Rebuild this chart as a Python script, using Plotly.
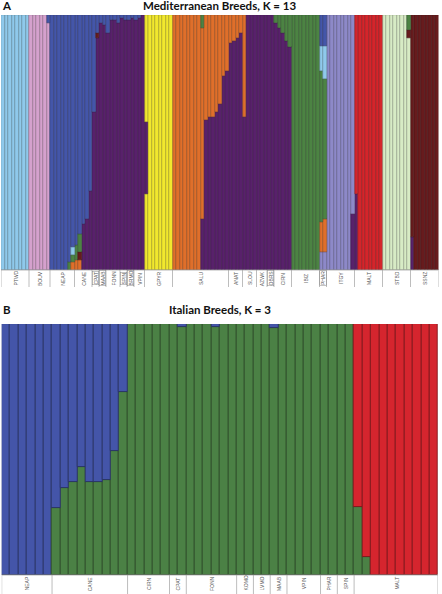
import plotly.graph_objects as go

W, H = 442, 594

# ---------------- Panel A data (Mediterranean breeds, K = 13) ----------------
A_breeds = ["PTWD", "BOUV", "NEAP", "CANE", "CPAT", "MAAB", "FONN", "SPIN", "BRMO", "VPIN",
            "GPYR", "SALU", "ANAT", "SLOU", "AZWK", "OBRS", "CIRN", "IBIZ", "PHAR", "ITGY",
            "MALT", "STBD", "SSNZ"]
A_counts = [8, 6, 7, 5, 2, 2, 4, 2, 2, 3, 8, 16, 4, 4, 3, 2, 5, 8, 2, 8, 8, 8, 8]
A_main = ["ltblue", "pink", "blue", "blue", "purple", "purple", "purple", "purple", "purple",
          "purple", "yellow", "orange", "purple", "purple", "purple", "purple", "purple",
          "green", "green", "lavender", "red", "ltgreen", "darkred"]
A_boxed = ["CPAT", "MAAB", "SPIN", "BRMO", "OBRS", "PHAR"]

# admixed individuals: bar index -> [(cluster, proportion)] bottom to top
A_admix = {
    13: [("pink", 0.97), ("blue", 0.03)],
    19: [("green", 0.03), ("blue", 0.97)],
    20: [("orange", 0.03), ("green", 0.03), ("ltblue", 0.03), ("blue", 0.91)],
    21: [("orange", 0.04), ("green", 0.06), ("blue", 0.90)],
    22: [("orange", 0.04), ("darkred", 0.03), ("green", 0.07), ("blue", 0.86)],
    23: [("purple", 0.18), ("blue", 0.82)],
    24: [("purple", 0.20), ("blue", 0.80)],
    25: [("purple", 0.31), ("blue", 0.69)],
    26: [("purple", 0.62), ("blue", 0.38)],
    27: [("purple", 0.91), ("darkred", 0.02), ("blue", 0.07)],
    28: [("purple", 0.97), ("blue", 0.03)],
    29: [("purple", 0.96), ("blue", 0.04)],
    30: [("purple", 0.93), ("blue", 0.07)],
    31: [("purple", 0.98), ("blue", 0.02)],
    32: [("purple", 0.98), ("blue", 0.02)],
    33: [("purple", 0.97), ("blue", 0.03)],
    34: [("purple", 0.99), ("blue", 0.01)],
    35: [("purple", 0.98), ("blue", 0.02)],
    36: [("purple", 0.98), ("blue", 0.02)],
    37: [("purple", 0.99), ("blue", 0.01)],
    38: [("purple", 0.98), ("blue", 0.02)],
    39: [("purple", 0.99), ("blue", 0.01)],
    41: [("yellow", 0.30), ("purple", 0.28), ("yellow", 0.42)],
    57: [("purple", 0.20), ("orange", 0.75), ("green", 0.05)],
    58: [("purple", 0.59), ("orange", 0.41)],
    59: [("purple", 0.60), ("orange", 0.40)],
    60: [("purple", 0.60), ("orange", 0.40)],
    61: [("purple", 0.62), ("orange", 0.38)],
    62: [("purple", 0.65), ("orange", 0.35)],
    63: [("purple", 0.76), ("orange", 0.24)],
    64: [("purple", 0.78), ("orange", 0.22)],
    65: [("purple", 0.89), ("orange", 0.11)],
    66: [("purple", 0.90), ("orange", 0.10)],
    67: [("purple", 0.91), ("orange", 0.09)],
    68: [("purple", 0.93), ("orange", 0.07)],
    69: [("purple", 0.60), ("orange", 0.40)],
    78: [("purple", 0.97), ("green", 0.03)],
    79: [("purple", 0.95), ("green", 0.05)],
    80: [("purple", 0.93), ("green", 0.07)],
    81: [("purple", 0.90), ("green", 0.10)],
    82: [("purple", 0.875), ("green", 0.125)],
    91: [("lavender", 0.07), ("orange", 0.12), ("green", 0.59), ("ltblue", 0.10), ("blue", 0.12)],
    92: [("lavender", 0.07), ("orange", 0.13), ("green", 0.55), ("ltblue", 0.13), ("blue", 0.12)],
    100: [("purple", 0.22), ("lavender", 0.78)],
    101: [("purple", 0.30), ("red", 0.70)],
    116: [("ltgreen", 0.91), ("darkred", 0.03), ("green", 0.06)],
    117: [("purple", 0.13), ("darkred", 0.87)],
}

# ---------------- Panel B data (Italian breeds, K = 3) ----------------
B_breeds = ["NEAP", "CANE", "CIRN", "CPAT", "FONN", "KOMO", "LVMO", "MAAB", "VPIN", "PHAR",
            "SPIN", "MALT"]
B_counts = [6, 9, 5, 2, 6, 2, 2, 2, 4, 2, 2, 10]
B_main = ["blue", "blue", "green", "green", "green", "green", "green", "green", "green",
          "green", "green", "red"]
B_admix = {
    6: [("green", 0.267), ("blue", 0.733)],
    7: [("green", 0.347), ("blue", 0.653)],
    8: [("green", 0.37), ("blue", 0.63)],
    9: [("green", 0.43), ("blue", 0.57)],
    10: [("green", 0.37), ("blue", 0.63)],
    11: [("green", 0.37), ("blue", 0.63)],
    12: [("green", 0.38), ("blue", 0.62)],
    13: [("green", 0.494), ("blue", 0.506)],
    14: [("green", 0.729), ("blue", 0.271)],
    21: [("green", 0.988), ("blue", 0.012)],
    25: [("green", 0.988), ("blue", 0.012)],
    32: [("green", 0.984), ("blue", 0.016)],
    42: [("green", 0.27), ("red", 0.73)],
    43: [("green", 0.072), ("red", 0.928)],
}

PAL_A = {"ltblue": "#8FC9EB", "pink": "#D5A1CD", "blue": "#4456A9", "purple": "#58216B",
         "yellow": "#F1E82E", "orange": "#DF6F2B", "green": "#4C8343", "lavender": "#8D89C8",
         "red": "#D4252B", "ltgreen": "#D7EBC5", "darkred": "#671B1D"}
PAL_B = {"blue": "#4455A9", "green": "#4B8145", "red": "#D5252E"}


def darken(hexc, f=0.6):
    r, g, b = int(hexc[1:3], 16), int(hexc[3:5], 16), int(hexc[5:7], 16)
    return "rgb(%d,%d,%d)" % (r * f, g * f, b * f)


def expand(counts, mains, admix):
    bars = []
    for n, m in zip(counts, mains):
        for _ in range(n):
            bars.append(admix.get(len(bars), [(m, 1.0)]))
    return bars


def add_panel(fig, bars, pal, xa, ya, lw):
    depth = max(len(s) for s in bars)
    for j in range(depth):
        xs, ys, bs, cs, ls = [], [], [], [], []
        for i, s in enumerate(bars):
            if len(s) > j:
                tot = sum(f for _, f in s)
                xs.append(i)
                bs.append(sum(f for _, f in s[:j]) / tot)
                ys.append(s[j][1] / tot)
                cs.append(pal[s[j][0]])
                ls.append(darken(pal[s[j][0]]))
        fig.add_trace(go.Bar(x=xs, y=ys, base=bs, width=1, xaxis=xa, yaxis=ya,
                             marker=dict(color=cs, line=dict(color=ls, width=lw)),
                             hoverinfo="skip", showlegend=False))


barsA = expand(A_counts, A_main, A_admix)
barsB = expand(B_counts, B_main, B_admix)

fig = go.Figure()
add_panel(fig, barsA, PAL_A, "x", "y", 0.5)
add_panel(fig, barsB, PAL_B, "x2", "y2", 0.9)

# panel geometry (pixels from top)
A_top, A_bot, A_lab, A_sep = 15, 270, 278.5, 287
B_top, B_bot, B_lab, B_sep = 324, 575, 583.5, 594


def py(p):
    return 1 - p / H


shapes, annots = [], []


def label_row(breeds, counts, xref, bot, lab, sep, boxed):
    start = 0
    n_tot = sum(counts)
    shapes.append(dict(type="line", xref=xref, yref="paper", x0=-0.5, x1=n_tot - 0.5,
                       y0=py(bot), y1=py(bot), line=dict(color="#9A9A9A", width=0.7)))
    for b, n in zip(breeds, counts):
        shapes.append(dict(type="line", xref=xref, yref="paper", x0=start - 0.5, x1=start - 0.5,
                           y0=py(bot), y1=py(sep), line=dict(color="#A0A0A0", width=0.7)))
        a = dict(x=start + n / 2 - 0.5, xref=xref, y=py(lab), yref="paper", text=b,
                 textangle=-90, showarrow=False, font=dict(size=5, color="#555555",
                                                            family="Liberation Sans"),
                 xanchor="center", yanchor="middle")
        if b in boxed:
            a.update(bordercolor="#8A8A8A", borderwidth=0.5, borderpad=0)
        annots.append(a)
        start += n
    shapes.append(dict(type="line", xref=xref, yref="paper", x0=n_tot - 0.5, x1=n_tot - 0.5,
                       y0=py(bot), y1=py(sep), line=dict(color="#A0A0A0", width=0.7)))


label_row(A_breeds, A_counts, "x", A_bot, A_lab, A_sep, A_boxed)
label_row(B_breeds, B_counts, "x2", B_bot, B_lab, B_sep, [])

tfont = dict(family="Lato", size=11.5, color="#111111")
annots += [
    dict(x=219.5 / W, y=py(6), xref="paper", yref="paper", text="<b>Mediterranean Breeds, K = 13</b>",
         showarrow=False, font=tfont, xanchor="center", yanchor="middle"),
    dict(x=7 / W, y=py(6), xref="paper", yref="paper", text="<b>A</b>",
         showarrow=False, font=tfont, xanchor="center", yanchor="middle"),
    dict(x=219.5 / W, y=py(309), xref="paper", yref="paper", text="<b>Italian Breeds, K = 3</b>",
         showarrow=False, font=tfont, xanchor="center", yanchor="middle"),
    dict(x=7.5 / W, y=py(309), xref="paper", yref="paper", text="<b>B</b>",
         showarrow=False, font=tfont, xanchor="center", yanchor="middle"),
]

nA, nB = sum(A_counts), sum(B_counts)
fig.update_layout(
    width=W, height=H, margin=dict(l=0, r=0, t=0, b=0),
    paper_bgcolor="white", plot_bgcolor="white",
    barmode="overlay", bargap=0,
    xaxis=dict(domain=[1 / W, 438.5 / W], range=[-0.5, nA - 0.5], visible=False, anchor="y"),
    yaxis=dict(domain=[py(A_bot), py(A_top)], range=[0, 1], visible=False, anchor="x"),
    xaxis2=dict(domain=[1.7 / W, 438 / W], range=[-0.5, nB - 0.5], visible=False, anchor="y2"),
    yaxis2=dict(domain=[py(B_bot), py(B_top)], range=[0, 1], visible=False, anchor="x2"),
    shapes=shapes, annotations=annots,
)

fig.write_html("out.html")
